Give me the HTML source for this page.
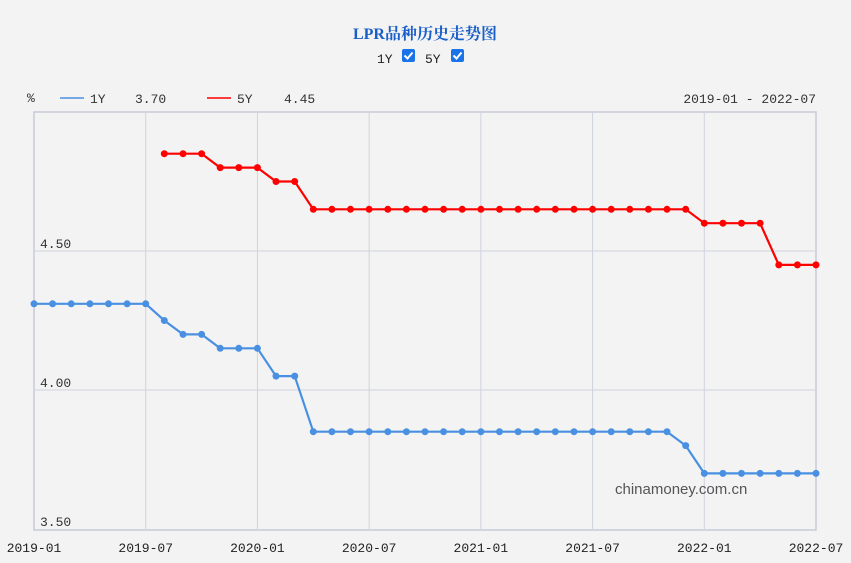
<!DOCTYPE html>
<html><head><meta charset="utf-8"><style>
html,body{margin:0;padding:0;background:#f3f3f3;}
svg{display:block;font-family:"Liberation Mono","Noto Serif CJK SC",monospace;}
</style></head><body>
<svg id="s" width="851" height="563" viewBox="0 0 851 563" xmlns="http://www.w3.org/2000/svg">
<rect width="851" height="563" fill="#f3f3f3"/>
<text x="425" y="39" text-anchor="middle" font-family="'Liberation Serif','Noto Serif CJK SC',serif" font-size="16" font-weight="bold" fill="#1a5fc8">LPR品种历史走势图</text>
<text x="377" y="63" font-size="13" fill="#222">1Y</text>
<rect x="402" y="49" width="13" height="13" rx="2" fill="#1a73e8"/>
<path d="M404.5 55.5l3 3 5-6" stroke="#fff" stroke-width="2" fill="none"/>
<text x="425" y="63" font-size="13" fill="#222">5Y</text>
<rect x="451" y="49" width="13" height="13" rx="2" fill="#1a73e8"/>
<path d="M453.5 55.5l3 3 5-6" stroke="#fff" stroke-width="2" fill="none"/>
<text x="27" y="102" font-size="13" fill="#333">%</text>
<line x1="60" y1="98" x2="84" y2="98" stroke="#4a90e2" stroke-width="1.5"/>
<text x="90" y="103" font-size="13" fill="#333">1Y</text>
<text x="135" y="103" font-size="13" fill="#333">3.70</text>
<line x1="207" y1="98" x2="231" y2="98" stroke="#f00" stroke-width="1.5"/>
<text x="237" y="103" font-size="13" fill="#333">5Y</text>
<text x="284" y="103" font-size="13" fill="#333">4.45</text>
<text x="816" y="103" text-anchor="end" font-size="13" fill="#333">2019-01 - 2022-07</text>
<g id="g"></g>
<text x="615" y="494" font-family="'Liberation Sans',sans-serif" font-size="15" fill="#555">chinamoney.com.cn</text>
</svg>
<script>
var g=document.getElementById('g'),h='';
function X(i){return 34+i*782/42;}
function Y(v){return 251-(v-4.5)*278;}
h+='<rect x="34" y="112" width="782" height="418" fill="none" stroke="#c8cbd6" stroke-width="1.5"/>';
[4.5,4.0].forEach(function(v){h+='<line x1="34" x2="816" y1="'+Y(v)+'" y2="'+Y(v)+'" stroke="#d0d3de"/>';});
var labs=['2019-01','2019-07','2020-01','2020-07','2021-01','2021-07','2022-01','2022-07'];
labs.forEach(function(l,k){var x=X(k*6);if(k>0&&k<7)h+='<line x1="'+x+'" x2="'+x+'" y1="112" y2="530" stroke="#d0d3de"/>';
h+='<text x="'+x+'" y="552" text-anchor="middle" font-size="13" fill="#222">'+l+'</text>';});
[['4.50',4.5],['4.00',4.0],['3.50',3.5]].forEach(function(a){h+='<text x="40" y="'+(Y(a[1])-3)+'" font-size="13" fill="#333">'+a[0]+'</text>';});
var one=[4.31,4.31,4.31,4.31,4.31,4.31,4.31,4.25,4.2,4.2,4.15,4.15,4.15,4.05,4.05];
while(one.length<35)one.push(3.85);one.push(3.8);while(one.length<43)one.push(3.7);
var five=[4.85,4.85,4.85,4.8,4.8,4.8,4.75,4.75];while(five.length<29)five.push(4.65);
five.push(4.6,4.6,4.6,4.6,4.45,4.45,4.45);
function ser(d,off,c){var p='';d.forEach(function(v,i){p+=(i?'L':'M')+X(i+off).toFixed(1)+' '+Y(v).toFixed(1);});
h+='<path d="'+p+'" fill="none" stroke="'+c+'" stroke-width="2.2"/>';
d.forEach(function(v,i){h+='<circle cx="'+X(i+off).toFixed(1)+'" cy="'+Y(v).toFixed(1)+'" r="3.5" fill="'+c+'"/>';});}
ser(one,0,'#4a90e2');ser(five,7,'#f00');
g.innerHTML=h;
</script>
</body></html>
